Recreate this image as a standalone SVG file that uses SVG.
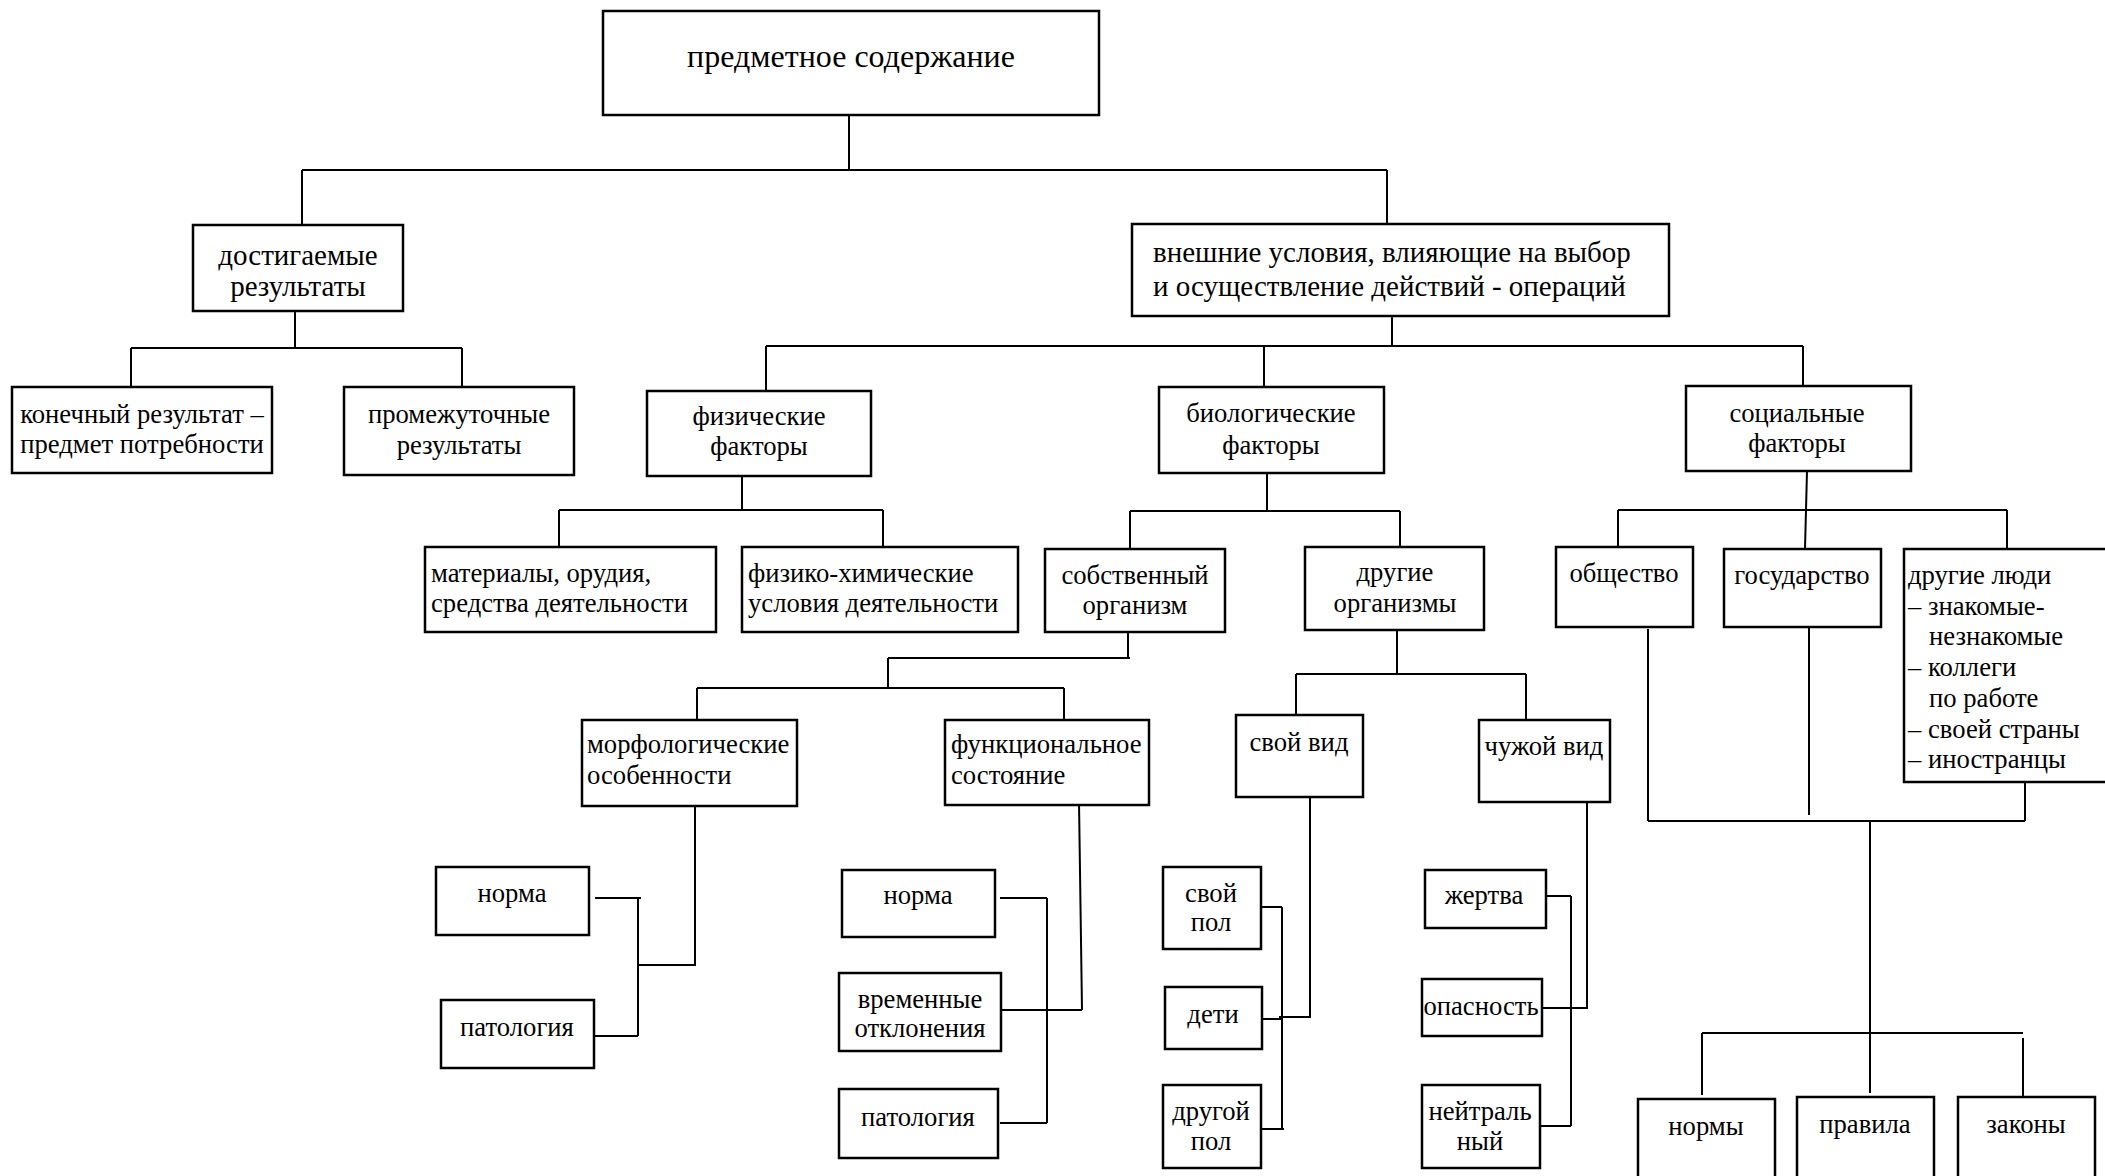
<svg xmlns="http://www.w3.org/2000/svg" width="2105" height="1176" viewBox="0 0 2105 1176">
<style>
.box{fill:#fff;stroke:#000;stroke-width:2.5}
.ln{fill:none;stroke:#000;stroke-width:2}
text{font-family:"Liberation Serif","Times New Roman",serif;font-size:26.67px;fill:#000}
.c{text-anchor:middle}
.t{font-size:32px}
.m{font-size:29px}
</style>
<rect width="2105" height="1176" fill="#fff"/>
<g id="connectors" class="ln">
<path d="M849,115 V170 M302,170 H1387 M302,170 V225 M1387,170 V224"/>
<path d="M295,311 V348 M131,348 H462 M131,348 V387 M462,348 V387"/>
<path d="M1392,313 V346 M766,346 H1803 M766,346 V391 M1264,346 V387 M1803,346 V386"/>
<path d="M742,476 V510 M559,510 H883 M559,510 V547 M883,510 V547"/>
<path d="M1267,473 V511 M1130,511 H1400 M1130,511 V549 M1400,511 V547"/>
<path d="M1807,471 L1805,549 M1618,510 H2007 M1618,510 V547 M2007,510 V549"/>
<path d="M1128,632 V658 M888,658 H1130 M888,658 V688 M697,688 H1064 M697,688 V720 M1064,688 V720"/>
<path d="M1397,630 V674 M1296,674 H1526 M1296,674 V715 M1526,674 V720"/>
<path d="M695,806 V965 H638 M638,898 V1036 M595,898 H641 M592,1036 H638"/>
<path d="M1079,802 L1082,1010 M1002,1010 H1082 M1047,898 V1123 M1000,898 H1047 M1000,1123 H1047"/>
<path d="M1310,797 V1017 H1279 M1282,907 V1130 M1259,907 H1282 M1259,1019 H1282 M1259,1129 H1284"/>
<path d="M1587,800 V1008 H1542 M1571,896 V1126 M1547,896 H1571 M1540,1126 H1571"/>
<path d="M1648,629 V821 M1809,627 V815 M2025,783 V821 M1648,821 H2025 M1870,821 V1093 M1702,1033 H2023 M1702,1033 V1095 M2023,1038 V1097"/>
</g>
<g id="n_root"><rect class="box" x="603" y="11" width="496" height="104"/><text class="c t" x="851" y="67">предметное содержание</text></g>
<g id="n_achieved"><rect class="box" x="193" y="225" width="210" height="86"/><text class="c m" x="298" y="265">достигаемые</text><text class="c m" x="298" y="296">результаты</text></g>
<g id="n_external"><rect class="box" x="1132" y="224" width="537" height="92"/><text class="m" x="1153" y="262">внешние условия, влияющие на выбор</text><text class="m" x="1153" y="296">и осуществление действий - операций</text></g>
<g id="n_final"><rect class="box" x="12" y="387" width="260" height="86"/><text class="c" x="142" y="423">конечный результат –</text><text class="c" x="142" y="453">предмет потребности</text></g>
<g id="n_inter"><rect class="box" x="344" y="387" width="230" height="88"/><text class="c" x="459" y="423">промежуточные</text><text class="c" x="459" y="454">результаты</text></g>
<g id="n_phys"><rect class="box" x="647" y="391" width="224" height="85"/><text class="c" x="759" y="425">физические</text><text class="c" x="759" y="455">факторы</text></g>
<g id="n_bio"><rect class="box" x="1159" y="387" width="225" height="86"/><text class="c" x="1271" y="422">биологические</text><text class="c" x="1271" y="454">факторы</text></g>
<g id="n_social"><rect class="box" x="1686" y="386" width="225" height="85"/><text class="c" x="1797" y="422">социальные</text><text class="c" x="1797" y="452">факторы</text></g>
<g id="n_materials"><rect class="box" x="425" y="547" width="291" height="85"/><text x="431" y="582">материалы, орудия,</text><text x="431" y="612">средства деятельности</text></g>
<g id="n_physchem"><rect class="box" x="742" y="547" width="276" height="85"/><text x="748" y="582">физико-химические</text><text x="748" y="612">условия деятельности</text></g>
<g id="n_own"><rect class="box" x="1045" y="549" width="180" height="83"/><text class="c" x="1135" y="584">собственный</text><text class="c" x="1135" y="614">организм</text></g>
<g id="n_otherorg"><rect class="box" x="1305" y="547" width="179" height="83"/><text class="c" x="1395" y="581">другие</text><text class="c" x="1395" y="612">организмы</text></g>
<g id="n_society"><rect class="box" x="1556" y="547" width="137" height="80"/><text class="c" x="1624" y="582">общество</text></g>
<g id="n_state"><rect class="box" x="1724" y="549" width="157" height="78"/><text class="c" x="1802" y="584">государство</text></g>
<g id="n_people"><rect class="box" x="1904" y="549" width="215" height="233"/><text x="1908" y="584">другие люди</text><text x="1908" y="615">– знакомые-</text><text x="1929" y="645">незнакомые</text><text x="1908" y="676">– коллеги</text><text x="1929" y="707">по работе</text><text x="1908" y="738">– своей страны</text><text x="1908" y="768">– иностранцы</text></g>
<g id="n_morph"><rect class="box" x="582" y="720" width="215" height="86"/><text x="587" y="753">морфологические</text><text x="587" y="784">особенности</text></g>
<g id="n_func"><rect class="box" x="945" y="720" width="204" height="85"/><text x="951" y="753">функциональное</text><text x="951" y="784">состояние</text></g>
<g id="n_ownspecies"><rect class="box" x="1236" y="715" width="127" height="82"/><text class="c" x="1299" y="751">свой вид</text></g>
<g id="n_alien"><rect class="box" x="1479" y="720" width="131" height="82"/><text class="c" x="1544" y="755">чужой вид</text></g>
<g id="n_norm1"><rect class="box" x="436" y="867" width="153" height="68"/><text class="c" x="512" y="902">норма</text></g>
<g id="n_path1"><rect class="box" x="441" y="1000" width="153" height="68"/><text class="c" x="517" y="1036">патология</text></g>
<g id="n_norm2"><rect class="box" x="842" y="870" width="153" height="67"/><text class="c" x="918" y="904">норма</text></g>
<g id="n_temp"><rect class="box" x="839" y="973" width="162" height="78"/><text class="c" x="920" y="1008">временные</text><text class="c" x="920" y="1037">отклонения</text></g>
<g id="n_path2"><rect class="box" x="839" y="1089" width="159" height="69"/><text class="c" x="918" y="1126">патология</text></g>
<g id="n_ownsex"><rect class="box" x="1163" y="867" width="98" height="82"/><text class="c" x="1211" y="902">свой</text><text class="c" x="1211" y="931">пол</text></g>
<g id="n_kids"><rect class="box" x="1165" y="987" width="97" height="62"/><text class="c" x="1213" y="1023">дети</text></g>
<g id="n_othersex"><rect class="box" x="1163" y="1085" width="98" height="83"/><text class="c" x="1211" y="1120">другой</text><text class="c" x="1211" y="1150">пол</text></g>
<g id="n_victim"><rect class="box" x="1425" y="870" width="121" height="58"/><text class="c" x="1484" y="904">жертва</text></g>
<g id="n_danger"><rect class="box" x="1422" y="979" width="120" height="57"/><text class="c" x="1481" y="1015">опасность</text></g>
<g id="n_neutral"><rect class="box" x="1422" y="1085" width="118" height="83"/><text class="c" x="1480" y="1120">нейтраль</text><text class="c" x="1480" y="1150">ный</text></g>
<g id="n_norms"><rect class="box" x="1638" y="1099" width="137" height="82"/><text class="c" x="1706" y="1135">нормы</text></g>
<g id="n_rules"><rect class="box" x="1797" y="1097" width="137" height="82"/><text class="c" x="1865" y="1133">правила</text></g>
<g id="n_laws"><rect class="box" x="1958" y="1097" width="137" height="82"/><text class="c" x="2026" y="1133">законы</text></g>
</svg>
